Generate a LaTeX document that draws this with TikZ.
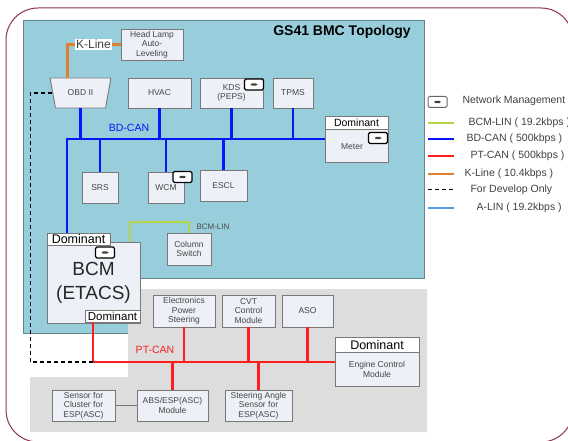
\documentclass[tikz,border=0pt]{standalone}
\usepackage{fontspec}
\setmainfont{Liberation Sans}
\usetikzlibrary{shapes.geometric}
\definecolor{panelcyan}{RGB}{152,206,219}
\definecolor{panelgray}{RGB}{221,221,221}
\definecolor{boxfill}{RGB}{238,240,248}
\definecolor{boxline}{RGB}{120,120,120}
\definecolor{boxtext}{RGB}{70,70,70}
\definecolor{bdblue}{RGB}{10,20,250}
\definecolor{ptred}{RGB}{255,30,30}
\definecolor{korange}{RGB}{226,128,50}
\definecolor{lingreen}{RGB}{180,214,70}
\definecolor{alinblue}{RGB}{80,160,225}
\definecolor{framecol}{RGB}{140,50,85}

\begin{document}
\begin{tikzpicture}[x=1pt,y=-1pt]
 \tikzstyle{ecu}=[draw=boxline, fill=boxfill, line width=0.9, align=center, text=boxtext, inner sep=1pt, font=\fontsize{8.5}{9.5}\selectfont]
 \tikzstyle{dom}=[draw=boxline, fill=white, line width=0.9, inner sep=0pt, text=black]
 \tikzstyle{nm}=[draw=black, fill=white, line width=1.3, rounded corners=1.5, minimum width=19, minimum height=11, inner sep=0pt,
   path picture={\fill[black!75] ([xshift=-3.5pt,yshift=-1.2pt]path picture bounding box.center) rectangle ([xshift=3.5pt,yshift=1.2pt]path picture bounding box.center);}]
 \tikzstyle{bus}=[line width=2.6]
 \tikzstyle{devline}=[black, line width=1.2, dash pattern=on 4pt off 3pt]
 \tikzstyle{legtxt}=[anchor=west, text=black!75, font=\fontsize{10.5}{12}\selectfont]
 \useasboundingbox (0,0) rectangle (568,441);
 \fill[panelcyan] (23,20) -- (424,20) -- (424,278) -- (128,278) -- (128,333) -- (23,333) -- cycle;
 \draw[panelcyan!65!black, line width=0.6] (23,20) -- (424,20) -- (424,278) -- (128,278) -- (128,333) -- (23,333) -- cycle;
 \fill[panelgray] (128,289) -- (427,289) -- (427,432) -- (30,432) -- (30,377) -- (128,377) -- cycle;
 \draw[framecol, line width=1, rounded corners=32] (6,8) rectangle (573,442);
 \node[font=\bfseries\fontsize{14}{16}\selectfont] at (342,32) (title) {GS41 BMC Topology};

 \node[ecu, minimum width=62, minimum height=31] at (152,44.5) (lamp) {Head Lamp\\Auto-\\Leveling};
 \node[ecu, trapezium, shape border rotate=180, trapezium left angle=70, trapezium right angle=70, trapezium stretches=true,
   minimum width=61, minimum height=30] at (80.5,93) (obd) {OBD II};
 \node[ecu, minimum width=63, minimum height=30] at (159.5,93) (hvac) {HVAC};
 \node[ecu, minimum width=63, minimum height=30] at (231.5,93) (kds) {KDS\\(PEPS)};
 \node[ecu, minimum width=40, minimum height=30] at (293,93) (tpms) {TPMS};
 \node[ecu, minimum width=63, minimum height=46] at (356.5,139) (meter) {};
 \node[dom, anchor=north, minimum width=63, minimum height=13, font=\fontsize{10.5}{12}\selectfont] at (meter.north) (meterdom) {Dominant};
 \node[text=boxtext, font=\fontsize{8.5}{9.5}\selectfont] at (352,147) (metertxt) {Meter};
 \node[ecu, minimum width=36, minimum height=31] at (100,187.5) (srs) {SRS};
 \node[ecu, minimum width=36, minimum height=31] at (166,187.5) (wcm) {WCM};
 \node[ecu, minimum width=47, minimum height=31] at (223.5,186) (escl) {ESCL};
 \node[ecu, minimum width=44, minimum height=32] at (189,249) (colsw) {Column\\Switch};
 \node[ecu, minimum width=93, minimum height=81, text=black!85, font=\fontsize{19}{24}\selectfont] at (93.5,282.5) (bcm) {BCM\\(ETACS)};
 \node[dom, minimum width=63, minimum height=12, font=\fontsize{12.5}{13}\selectfont] at (78.5,239) (bcmtop) {Dominant};
 \node[dom, minimum width=55, minimum height=12, font=\fontsize{11.5}{12}\selectfont] at (112.5,316) (bcmlow) {Dominant};

 \node[ecu, minimum width=62, minimum height=32] at (184,311) (eps) {Electronics\\Power\\Steering};
 \node[ecu, minimum width=53, minimum height=32] at (248.5,311) (cvt) {CVT\\Control\\Module};
 \node[ecu, minimum width=51, minimum height=32] at (307.5,311) (aso) {ASO};
 \node[ecu, minimum width=84, minimum height=49] at (377,362) (ecm) {};
 \node[dom, anchor=north, minimum width=84, minimum height=15, font=\fontsize{12.5}{13}\selectfont] at (ecm.north) (ecmdom) {Dominant};
 \node[align=center, text=boxtext, font=\fontsize{8.5}{10}\selectfont] at (377,369.5) (ecmtxt) {Engine Control\\Module};
 \node[ecu, minimum width=63, minimum height=31] at (83.5,405.5) (scl) {Sensor for\\Cluster for\\ESP(ASC)};
 \node[ecu, minimum width=71, minimum height=31] at (172.5,405.5) (abs) {ABS/ESP(ASC)\\Module};
 \node[ecu, minimum width=67, minimum height=31] at (258.5,405.5) (sas) {Steering Angle\\Sensor for\\ESP(ASC)};

 \node[nm] at (254,84.5) (kdsnm) {};
 \node[nm] at (182.5,177) (wcmnm) {};
 \node[nm] at (378,138) (meternm) {};
 \node[nm] at (105,252.5) (bcmnm) {};

 \coordinate (bdL) at (67,139);
 \draw[bus, bdblue] (bdL |- bcmtop.north) -- (bdL) -- (meter.west);
 \foreach \n in {obd,hvac,kds,tpms} \draw[bus, bdblue] (\n.south) -- (\n.south |- bdL);
 \foreach \n in {srs,wcm,escl} \draw[bus, bdblue] (\n.north) -- (\n.north |- bdL);
 \node[text=bdblue, font=\fontsize{10.5}{12}\selectfont] at (129,128) (bdlab) {BD-CAN};

 \coordinate (ptL) at (93,362);
 \draw[bus, ptred] (ptL |- bcmlow.south) -- (ptL) -- (ecm.west);
 \foreach \n in {eps,cvt,aso} \draw[bus, ptred] (\n.south) -- (\n.south |- ptL);
 \foreach \n in {abs,sas} \draw[bus, ptred] (\n.north) -- (\n.north |- ptL);
 \node[text=ptred, font=\fontsize{10.5}{12}\selectfont] at (155,350) (ptlab) {PT-CAN};

 \draw[devline] (obd.west) -- ++(-22,0) |- (ptL);
 \coordinate (linc) at (130,222);
 \draw[lingreen, line width=1.6] (linc |- bcm.north) -- (linc) -| (colsw.north);
 \node[anchor=west, text=black!70, font=\fontsize{8}{9}\selectfont] at (193,227) (linlab) {BCM-LIN};
 \draw[boxline, line width=1.2] (scl.east) -- (abs.west);

 \node[fill=white, inner sep=1pt, text=black!75, font=\fontsize{12}{13}\selectfont] at (93.5,44.5) (klab) {K-Line};
 \draw[korange, line width=2.2] ([xshift=-13pt]obd.north) |- (klab.west);
 \draw[korange, line width=2.2] (klab.east) -- (lamp.west);

 \node[nm, draw=black!60, line width=1] at (437.5,102) (legnm) {};
 \node[legtxt] at (459,101) (legnmtxt) {Network Management};
 \foreach \y/\c/\t/\x in {123/lingreen/{BCM-LIN ( 19.2kbps )}/465, 139/bdblue/{BD-CAN ( 500kbps )}/463,
   156/ptred/{PT-CAN ( 500kbps )}/467, 174/korange/{K-Line ( 10.4kbps )}/461, 208/alinblue/{A-LIN ( 19.2kbps )}/473} {
   \draw[\c, line width=2.2] (428,\y) -- (454,\y);
   \node[legtxt] at (\x,\y) (leg\y) {\t};
 }
 \draw[devline, line width=1] (428,190) -- (454,190);
 \node[legtxt] at (467,190) (legdev) {For Develop Only};
\end{tikzpicture}
\end{document}
